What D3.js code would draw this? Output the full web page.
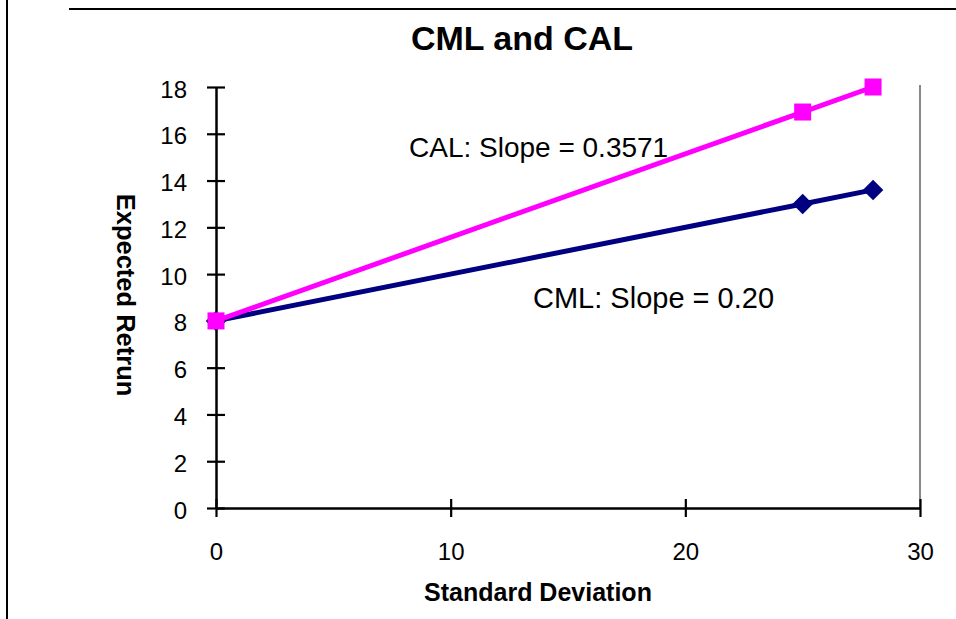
<!DOCTYPE html>
<html>
<head>
<meta charset="utf-8">
<script src="https://cdn.jsdelivr.net/npm/d3@7"></script>
<style>
  html, body { margin: 0; padding: 0; background: #fff; }
  svg { display: block; font-family: "Liberation Sans", Arial, sans-serif; }
</style>
</head>
<body>
<svg id="chart" width="956" height="619"></svg>
<script>
// Risk (standard deviation) and expected return for each line
const calX = [0, 25, 28];
const calY = [8, 16.93, 18];
const cmlX = [0, 25, 28];
const cmlY = [8, 13, 13.6];
const xTicks = [0, 10, 20, 30];
const yTicks = [0, 2, 4, 6, 8, 10, 12, 14, 16, 18];

const FONT = "Liberation Sans, Arial, sans-serif";
const svg = d3.select("#chart");
const x = d3.scaleLinear().domain([0, 30]).range([216, 920]);
const y = d3.scaleLinear().domain([0, 18]).range([508, 87]);

// Frame lines
svg.append("line").attr("x1", 7).attr("x2", 7).attr("y1", 0).attr("y2", 619)
  .attr("stroke", "#000").attr("stroke-width", 2);
svg.append("line").attr("x1", 69).attr("x2", 956).attr("y1", 9).attr("y2", 9)
  .attr("stroke", "#000").attr("stroke-width", 2);

// Plot area right border
svg.append("line").attr("x1", x(30)).attr("x2", x(30)).attr("y1", y(18) - 2).attr("y2", y(0))
  .attr("stroke", "#888").attr("stroke-width", 2);

// Axes with crossing tick marks
const xAxis = svg.append("g").attr("transform", `translate(0,${y(0)})`)
  .call(d3.axisBottom(x).tickValues(xTicks).tickSize(9).tickSizeOuter(0).tickPadding(26));
xAxis.selectAll(".tick line").attr("y1", -9).attr("stroke-width", 2.2);
xAxis.select(".domain").attr("stroke-width", 2.5);
xAxis.selectAll("text").attr("font-size", 24).attr("font-family", FONT).attr("fill", "#000");

const yAxis = svg.append("g").attr("transform", `translate(${x(0)},0)`)
  .call(d3.axisLeft(y).tickValues(yTicks).tickSize(9).tickSizeOuter(0).tickPadding(20));
yAxis.selectAll(".tick line").attr("x1", 9).attr("stroke-width", 2.2);
yAxis.select(".domain").attr("stroke-width", 2.5);
yAxis.selectAll("text").attr("font-size", 24).attr("font-family", FONT)
  .attr("fill", "#000").attr("dy", "0.42em");

// Lines
const line = d3.line().x(d => x(d[0])).y(d => y(d[1]));
const cml = cmlX.map((v, i) => [v, cmlY[i]]);
const cal = calX.map((v, i) => [v, calY[i]]);

svg.append("path").datum(cml).attr("d", line)
  .attr("fill", "none").attr("stroke", "#000080").attr("stroke-width", 5);
svg.selectAll(".diamond").data(cml).enter().append("path")
  .attr("class", "diamond")
  .attr("d", d3.symbol().type(d3.symbolSquare).size(210))
  .attr("transform", d => `translate(${x(d[0])},${y(d[1])}) rotate(45)`)
  .attr("fill", "#000080");

svg.append("path").datum(cal).attr("d", line)
  .attr("fill", "none").attr("stroke", "#ff00ff").attr("stroke-width", 5);
svg.selectAll(".square").data(cal).enter().append("rect")
  .attr("class", "square")
  .attr("x", d => x(d[0]) - 8.5).attr("y", d => y(d[1]) - 8.5)
  .attr("width", 17).attr("height", 17)
  .attr("fill", "#ff00ff");

// Annotations
svg.append("text").attr("x", 409).attr("y", 157).attr("font-size", 28)
  .text("CAL: Slope = 0.3571");
svg.append("text").attr("x", 533).attr("y", 308).attr("font-size", 29)
  .text("CML: Slope = 0.20");

// Titles
svg.append("text").attr("x", 522).attr("y", 50).attr("text-anchor", "middle")
  .attr("font-size", 34).attr("font-weight", "bold").text("CML and CAL");
svg.append("text").attr("x", 538).attr("y", 601).attr("text-anchor", "middle")
  .attr("font-size", 25).attr("font-weight", "bold").text("Standard Deviation");
svg.append("text").attr("transform", "translate(117,295) rotate(90)")
  .attr("text-anchor", "middle").attr("font-size", 25.5).attr("font-weight", "bold")
  .text("Expected Retrun");
</script>
</body>
</html>
